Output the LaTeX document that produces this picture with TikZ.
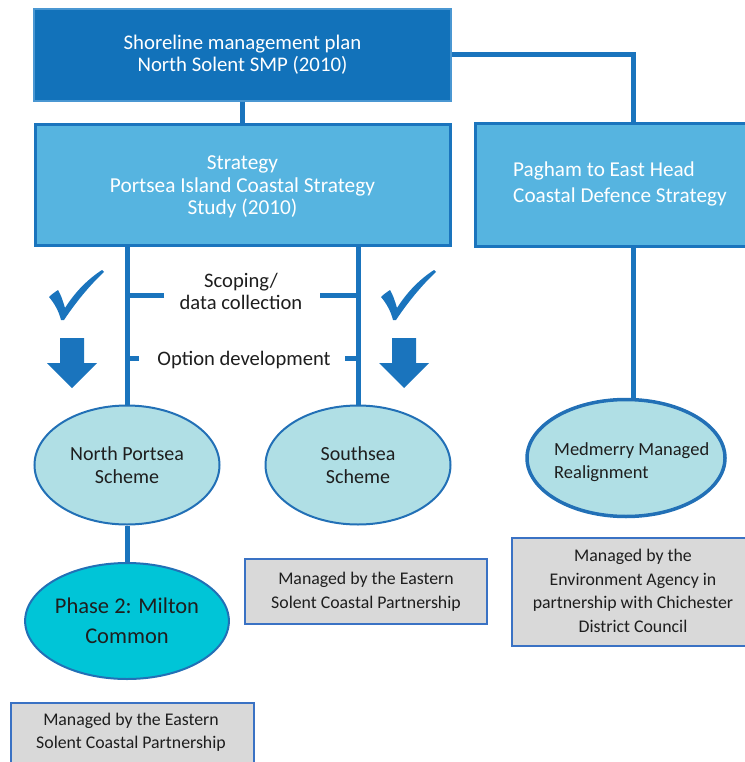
\documentclass[tikz,border=0pt]{standalone}
\usepackage{fontspec}
\setmainfont{Carlito}
\usetikzlibrary{shapes.geometric}
\definecolor{navy}{HTML}{1272BA}
\definecolor{navyedge}{HTML}{4A97D2}
\definecolor{skyfill}{HTML}{56B4E0}
\definecolor{linkblue}{HTML}{1A74BD}
\definecolor{paleteal}{HTML}{B0DFE5}
\definecolor{ovaledge}{HTML}{2270B6}
\definecolor{cyanfill}{HTML}{00C5D7}
\definecolor{greyfill}{HTML}{D9D9D9}
\definecolor{greyedge}{HTML}{3A72C4}
\definecolor{inktext}{HTML}{1E1E1E}
\tikzset{
  link/.style={draw=linkblue, line width=5pt},
  planbox/.style={rectangle, fill=navy, draw=navyedge, line width=1.2pt, text=white,
    align=center, inner sep=0pt, font=\fontsize{20.8}{22}\selectfont},
  stratbox/.style={rectangle, fill=skyfill, draw=linkblue, line width=3pt, text=white,
    inner sep=0pt},
  scheme/.style={ellipse, fill=paleteal, draw=ovaledge, line width=2pt, inner sep=0pt,
    text=inktext, align=center},
  note/.style={rectangle, fill=greyfill, draw=greyedge, line width=1.5pt, inner sep=0pt,
    text=inktext, align=center, font=\fontsize{17.8}{23.5}\selectfont},
  stagelabel/.style={text=inktext, align=center, inner sep=0pt,
    font=\fontsize{20.6}{22}\selectfont},
  glyph/.style={fill=linkblue, draw=none}
}
\begin{document}
\begin{tikzpicture}[x=1pt, y=-1pt]
\useasboundingbox (0,0) rectangle (744,762);

% top level plan
\node[planbox, minimum width=417, minimum height=92] (smp) at (242.5,55)
  {Shoreline management plan\\North Solent SMP (2010)};

% strategies
\node[stratbox, minimum width=415, minimum height=120] (pics) at (242.5,185) {};
\node[text=white, align=center, inner sep=0pt, font=\fontsize{21.3}{22.5}\selectfont]
  (picstext) at (242.5,187) {Strategy\\Portsea Island Coastal Strategy\\Study (2010)};
\node[stratbox, minimum width=290, minimum height=122, anchor=west] (pagham) at (474,185) {};
\node[text=white, align=left, inner sep=0pt, anchor=west, font=\fontsize{21.2}{26}\selectfont]
  (paghamtext) at (513,184) {Pagham to East Head\\Coastal Defence Strategy};

% schemes
\node[scheme, minimum width=185, minimum height=119, font=\fontsize{20}{23}\selectfont]
  (north) at (127,465) {North Portsea\\Scheme};
\node[scheme, minimum width=185, minimum height=119, font=\fontsize{20}{23}\selectfont]
  (south) at (358,465) {Southsea\\Scheme};
\node[scheme, line width=3.5pt, minimum width=198, minimum height=117] (medmerry) at (626,458) {};
\node[text=inktext, align=left, anchor=west, inner sep=0pt, font=\fontsize{18.5}{23}\selectfont]
  (medtext) at (554,462) {Medmerry Managed\\Realignment};
\node[scheme, fill=cyanfill, minimum width=192, minimum height=116, font=\fontsize{22.5}{30}\selectfont]
  (milton) at (127,621) {Phase 2: Milton\\Common};

% management notes
\node[note, minimum width=242, minimum height=65] (southnote) at (366,591.5)
  {Managed by the Eastern\\Solent Coastal Partnership};
\node[note, minimum width=250, minimum height=108, anchor=north west] (mednote) at (511,537) {};
\node[text=inktext, align=center, inner sep=0pt, font=\fontsize{17.8}{23.7}\selectfont]
  (mednotetext) at (633,591) {Managed by the\\Environment Agency in\\partnership with Chichester\\District Council};
\node[note, minimum width=243, minimum height=70, anchor=north west] (miltonnote) at (10,702) {};
\node[text=inktext, align=center, inner sep=0pt, font=\fontsize{17.8}{23.5}\selectfont]
  (miltonnotetext) at (131,732) {Managed by the Eastern\\Solent Coastal Partnership};

% connectors
\draw[link] (smp.south) -- (pics.north);
\draw[link] (smp.east) -| ([xshift=13pt]pagham.north);
\draw[link] ([xshift=13pt]pagham.south) -- ([xshift=13pt]pagham.south |- medmerry.north);
\draw[link] (north.north |- pics.south) -- (north.north);
\draw[link] (south.north |- pics.south) -- (south.north);
\draw[link] (north.south) -- (milton.north);

% stage ticks on the two scheme lines
\coordinate (scopeL) at (164,295);
\coordinate (scopeR) at (320,295);
\coordinate (optL) at (139,358);
\coordinate (optR) at (345,358);
\draw[link] (scopeL) -- (scopeL -| north.north);
\draw[link] (scopeR) -- (scopeR -| south.north);
\draw[link] (optL) -- (optL -| north.north);
\draw[link] (optR) -- (optR -| south.north);
\node[stagelabel] (scoping) at (241,291) {Scoping/\\data collection};
\node[stagelabel] (option) at (244,360) {Option development};

% tick marks and down arrows
\foreach \dx/\nm in {0/left, 332/right}{
  \begin{scope}[xshift=\dx pt]
    \fill[glyph] (49,297) .. controls (52,294) and (55,292) .. (58,290)
      .. controls (61,295) and (63,301) .. (65,308)
      .. controls (75,292) and (88,279) .. (102,270)
      -- (104,272) .. controls (90,285) and (76,302) .. (64,320)
      -- (61,320) .. controls (59,312) and (55,304) .. cycle;
    \fill[glyph] (60,338) -- (84,338) -- (84,363) -- (97,363) -- (72,388)
      -- (47,363) -- (60,363) -- cycle;
  \end{scope}
}
\end{tikzpicture}
\end{document}
